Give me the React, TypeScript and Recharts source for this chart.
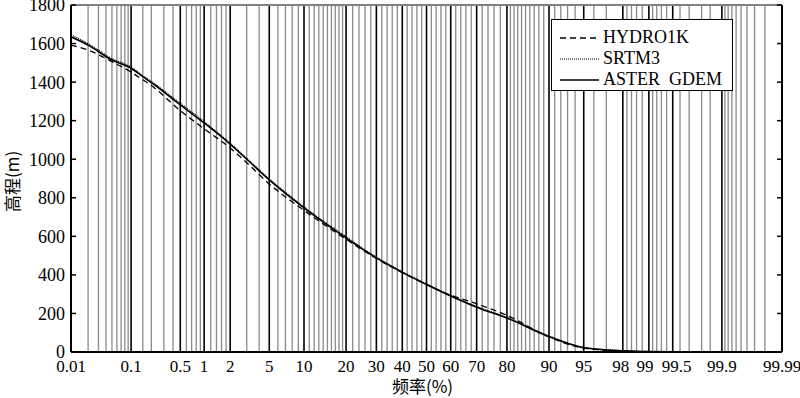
import { LineChart, Line, XAxis, YAxis, ReferenceLine, Legend } from 'recharts';

// cumulative frequency (%) and elevation (m)
const percentiles = [0.01, 0.02, 0.05, 0.1, 0.15, 0.2, 0.5, 1, 2, 3, 5, 10, 20, 30, 40, 50, 60, 70, 80, 90, 95, 98, 99, 99.5, 99.9, 99.99];
const hydro1k = [1592, 1566, 1506, 1452, 1412, 1382, 1252, 1158, 1058, 982, 872, 735, 585, 485, 412, 350, 295, 250, 190, 78, 20, 5, 2, 1, 0, 0];
const srtm3 = [1645, 1600, 1522, 1478, 1433, 1403, 1290, 1195, 1083, 1005, 898, 753, 598, 492, 417, 353, 293, 236, 180, 83, 24, 7, 2, 1, 0, 0];
const asterGdem = [1635, 1592, 1515, 1472, 1428, 1398, 1282, 1188, 1078, 1000, 893, 748, 592, 488, 413, 350, 290, 232, 176, 80, 22, 6, 2, 1, 0, 0];

const xTickLabels = [0.01, 0.1, 0.5, 1, 2, 5, 10, 20, 30, 40, 50, 60, 70, 80, 90, 95, 98, 99, 99.5, 99.9, 99.99];
const majorGrid = [0.1, 0.5, 1, 2, 5, 10, 20, 30, 40, 50, 60, 70, 80, 90, 95, 98, 99, 99.5, 99.9];
const minorGrid = [
    0.02, 0.03, 0.04, 0.05, 0.06, 0.07, 0.08, 0.09, 0.15, 0.2, 0.3, 0.4, 0.6, 0.7, 0.8, 0.9,
    1.2, 1.4, 1.6, 1.8, 3, 4, 6, 7, 8, 9, 11, 12, 13, 14, 15, 16, 17, 18, 19,
    22, 24, 26, 28, 32, 34, 36, 38, 42, 44, 46, 48, 52, 54, 56, 58, 62, 64, 66, 68, 72, 74, 76, 78,
    81, 82, 83, 84, 85, 86, 87, 88, 89, 91, 92, 93, 94, 96, 97, 98.2, 98.4, 98.6, 98.8,
    99.1, 99.2, 99.3, 99.4, 99.6, 99.7, 99.8, 99.85, 99.91, 99.92, 99.93, 99.94, 99.95, 99.96, 99.97, 99.98,
];
const yTicks = [0, 200, 400, 600, 800, 1000, 1200, 1400, 1600, 1800];

// small nudges so crowded labels don't collide (as in the original)
const xLabelNudge: Record<string, number> = { '98': -2, '99': -4, '99.5': 4 };

const legendItems = [
    { name: 'HYDRO1K', dash: '6 4', width: 1.3 },
    { name: 'SRTM3', dash: '1 1', width: 1.2 },
    { name: 'ASTER  GDEM', dash: undefined, width: 1.6 },
];

// inverse normal CDF (Acklam) - used for the probability-paper x scale
function probit(p: number): number {
    const a = [-3.969683028665376e1, 2.209460984245205e2, -2.759285104469687e2, 1.38357751867269e2, -3.066479806614716e1, 2.506628277459239];
    const b = [-5.447609879822406e1, 1.615858368580409e2, -1.556989798598866e2, 6.680131188771972e1, -1.328068155288572e1];
    const c = [-7.784894002430293e-3, -3.223964580411365e-1, -2.400758277161838, -2.549732539343734, 4.374664141464968, 2.938163982698783];
    const d = [7.784695709041462e-3, 3.224671290700398e-1, 2.445134137142996, 3.754408661907416];
    const pLow = 0.02425;
    if (p < pLow) {
        const q = Math.sqrt(-2 * Math.log(p));
        return (((((c[0] * q + c[1]) * q + c[2]) * q + c[3]) * q + c[4]) * q + c[5]) / ((((d[0] * q + d[1]) * q + d[2]) * q + d[3]) * q + 1);
    }
    if (p <= 1 - pLow) {
        const q = p - 0.5;
        const r = q * q;
        return ((((((a[0] * r + a[1]) * r + a[2]) * r + a[3]) * r + a[4]) * r + a[5]) * q) / (((((b[0] * r + b[1]) * r + b[2]) * r + b[3]) * r + b[4]) * r + 1);
    }
    const q = Math.sqrt(-2 * Math.log(1 - p));
    return -(((((c[0] * q + c[1]) * q + c[2]) * q + c[3]) * q + c[4]) * q + c[5]) / ((((d[0] * q + d[1]) * q + d[2]) * q + d[3]) * q + 1);
}

const toZ = (pct: number) => probit(pct / 100);

const chartData = percentiles.map((p, i) => ({
    z: toZ(p),
    hydro: hydro1k[i],
    srtm: srtm3[i],
    aster: asterGdem[i],
}));

const Z_MIN = toZ(0.01);
const Z_MAX = toZ(99.99);

const WIDTH = 800;
const HEIGHT = 398;
const Y_AXIS_W = 71;
const MARGIN_RIGHT = 18;
const PLOT_LEFT = Y_AXIS_W;
const PLOT_RIGHT = WIDTH - MARGIN_RIGHT;

const serif = '"Liberation Serif", "Times New Roman", serif';
const cjk = '"Noto Sans CJK SC", sans-serif';

const formatX = (v: number) => {
    let best = xTickLabels[0];
    xTickLabels.forEach((t) => {
        if (Math.abs(toZ(t) - v) < Math.abs(toZ(best) - v)) best = t;
    });
    return String(best);
};

const XTick = (props: any) => {
    const { x, y, payload } = props;
    const label = formatX(payload.value);
    return (
        <text x={x + (xLabelNudge[label] || 0)} y={y} dy="0.71em" textAnchor="middle" fontFamily={serif} fontSize={17} fill="#000">
            {label}
        </text>
    );
};

const YTick = (props: any) => {
    const { x, y, payload } = props;
    return (
        <g>
            <text x={x} y={y} dy="0.36em" textAnchor="end" fontFamily={serif} fontSize={18} fill="#000">
                {payload.value}
            </text>
            <line x1={PLOT_LEFT} x2={PLOT_LEFT + 5} y1={y} y2={y} stroke="#000" strokeWidth={1.5} />
            <line x1={PLOT_RIGHT - 5} x2={PLOT_RIGHT} y1={y} y2={y} stroke="#000" strokeWidth={1.5} />
        </g>
    );
};

const renderLegend = () => (
    <div
        style={{
            border: '1.5px solid #000',
            background: '#fff',
            width: 182,
            height: 72,
            boxSizing: 'border-box',
            padding: '7px 0 0 8px',
        }}
    >
        {legendItems.map((item) => (
            <div key={item.name} style={{ display: 'flex', alignItems: 'center', height: 21 }}>
                <svg width={39} height={4} style={{ display: 'block' }}>
                    <line x1={0} x2={39} y1={2} y2={2} stroke="#000" strokeWidth={item.width} strokeDasharray={item.dash} />
                </svg>
                <span
                    style={{
                        marginLeft: 4,
                        fontFamily: serif,
                        fontSize: 18,
                        lineHeight: '21px',
                        whiteSpace: 'pre',
                        color: '#000',
                    }}
                >
                    {item.name}
                </span>
            </div>
        ))}
    </div>
);

export default function App() {
    return (
        <div style={{ position: 'absolute', left: 0, top: 0, width: WIDTH, height: HEIGHT, background: '#fff' }}>
            <LineChart width={WIDTH} height={HEIGHT} data={chartData} margin={{ top: 5, right: MARGIN_RIGHT, bottom: 0, left: 0 }}>
                {minorGrid.map((p) => (
                    <ReferenceLine key={'m' + p} x={toZ(p)} stroke="#8a8a8a" strokeWidth={1.3} zIndex={-50} />
                ))}
                {majorGrid.map((p) => (
                    <ReferenceLine key={'M' + p} x={toZ(p)} stroke="#000" strokeWidth={1.6} zIndex={-40} />
                ))}
                <ReferenceLine y={1800} stroke="#808080" strokeWidth={2} />
                <ReferenceLine x={Z_MAX} stroke="#000" strokeWidth={2} />
                <XAxis
                    type="number"
                    dataKey="z"
                    domain={[Z_MIN, Z_MAX]}
                    allowDataOverflow
                    ticks={xTickLabels.map(toZ)}
                    interval={0}
                    height={46}
                    tickLine={false}
                    tickSize={0}
                    tickMargin={8}
                    axisLine={{ stroke: '#000', strokeWidth: 2 }}
                    tick={<XTick />}
                    label={{
                        content: (lp: any) => {
                            const vb = lp.viewBox;
                            return (
                                <text x={vb.x + vb.width / 2 - 4} y={vb.y + 41} textAnchor="middle" fontFamily={cjk} fontSize={17} fill="#000">
                                    频率(%)
                                </text>
                            );
                        },
                    }}
                />
                <YAxis
                    type="number"
                    domain={[0, 1800]}
                    ticks={yTicks}
                    interval={0}
                    width={Y_AXIS_W}
                    tickLine={false}
                    tickSize={0}
                    tickMargin={6}
                    axisLine={{ stroke: '#000', strokeWidth: 2 }}
                    tick={<YTick />}
                    label={{
                        content: (lp: any) => {
                            const vb = lp.viewBox;
                            const cx = 13;
                            const cy = vb.y + vb.height / 2 + 3;
                            return (
                                <text x={cx} y={cy} transform={`rotate(-90 ${cx} ${cy})`} dy="0.35em" textAnchor="middle" fontFamily={cjk} fontSize={17} fill="#000">
                                    高程(m)
                                </text>
                            );
                        },
                    }}
                />
                <Legend
                    layout="vertical"
                    align="center"
                    verticalAlign="middle"
                    content={renderLegend}
                    wrapperStyle={{ left: 551, top: 19, width: 182, height: 72 }}
                />
                <Line type="monotone" dataKey="hydro" name="HYDRO1K" stroke="#000" strokeWidth={1.3} strokeDasharray="6 4" dot={false} isAnimationActive={false} />
                <Line type="monotone" dataKey="srtm" name="SRTM3" stroke="#000" strokeWidth={1.2} strokeDasharray="1 1" dot={false} isAnimationActive={false} />
                <Line type="monotone" dataKey="aster" name="ASTER GDEM" stroke="#000" strokeWidth={1.6} dot={false} isAnimationActive={false} />
            </LineChart>
        </div>
    );
}
